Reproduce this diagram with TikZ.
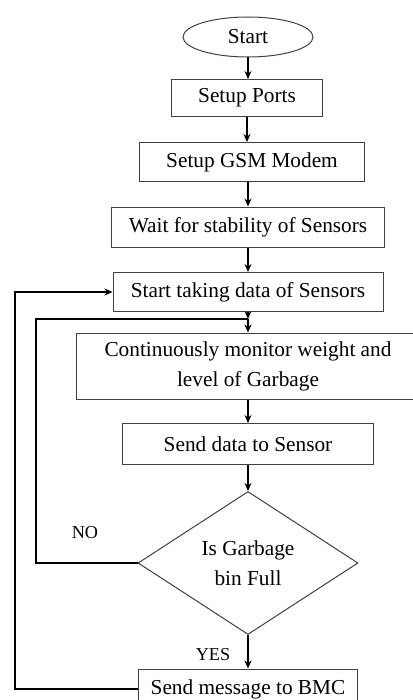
\documentclass[tikz,border=0pt]{standalone}
\usepackage{fontspec}
\setmainfont{Liberation Serif}
\usepackage{tikz}
\usetikzlibrary{arrows.meta,positioning,shapes.geometric}
\tikzset{
	txt/.style={font=\fontsize{10.65pt}{15pt}\selectfont},
	lbl/.style={font=\fontsize{9.1pt}{11pt}\selectfont},
	box/.style={draw=black!75,rectangle,align=center,line width=0.5pt,inner sep=0pt,txt},
	startend/.style={draw=black!75,ellipse,line width=0.5pt,inner sep=0pt,txt},
	decision/.style={draw=black!75,diamond,align=center,line width=0.5pt,inner sep=0pt,aspect=1.54,txt},
	flow/.style={line width=0.8pt,-{Stealth[length=4pt,width=3.5pt]}},
	loop/.style={line width=0.6pt}
}

\begin{document}
\begin{tikzpicture}[x=0.5pt,y=-0.5pt]
	\useasboundingbox (0,0) rectangle (412,700);
	\node[startend,minimum width=65pt,minimum height=20pt] (start) at (248,37) {Start};
	\node[box,minimum width=75.5pt,minimum height=18.5pt] (ports) at (247,98) {Setup Ports};
	\node[box,minimum width=112.5pt,minimum height=19.5pt] (gsm) at (252,162) {Setup GSM Modem};
	\node[box,minimum width=136.5pt,minimum height=20pt] (wait) at (248,227) {Wait for stability of Sensors};
	\node[box,minimum width=135pt,minimum height=19.5pt] (take) at (248,292) {Start taking data of Sensors};
	\node[box,minimum width=172pt,minimum height=33pt] (monitor) at (248,366) {Continuously monitor weight and\\level of Garbage};
	\node[box,minimum width=125.5pt,minimum height=20.5pt] (send) at (248,444) {Send data to Sensor};
	\node[decision,minimum width=110pt,minimum height=71.5pt] (full) at (248,563) {Is Garbage\\bin Full};
	\node[box,minimum width=109.5pt,minimum height=20pt] (bmc) at (248,689) {Send message to BMC};
	\node[lbl] (no) at (85,533) {NO};
	\node[lbl] (yes) at (213,655) {YES};
	\coordinate (j) at (248,319);
	\coordinate (nocorner) at (36,563);
	\coordinate (yescorner) at (15,689);
	% main line
	\draw[flow] (start.south) -- (start.south |- ports.north);
	\draw[flow] (ports.south) -- (ports.south |- gsm.north);
	\draw[flow] (gsm.south -| wait.north) -- (wait.north);
	\draw[flow] (wait.south) -- (take.north);
	\draw[flow] (take.south) -- (j);
	\draw[flow] (j) -- (monitor.north);
	\draw[flow] (monitor.south) -- (send.north);
	\draw[flow] (send.south) -- (full.north);
	\draw[flow] (full.south) -- (bmc.north);
	% loops back
	\draw[loop] (full.west) -- (nocorner) |- (j);
	\draw[loop,flow] (bmc.west) -- (yescorner) |- (take.west);
\end{tikzpicture}
\end{document}
